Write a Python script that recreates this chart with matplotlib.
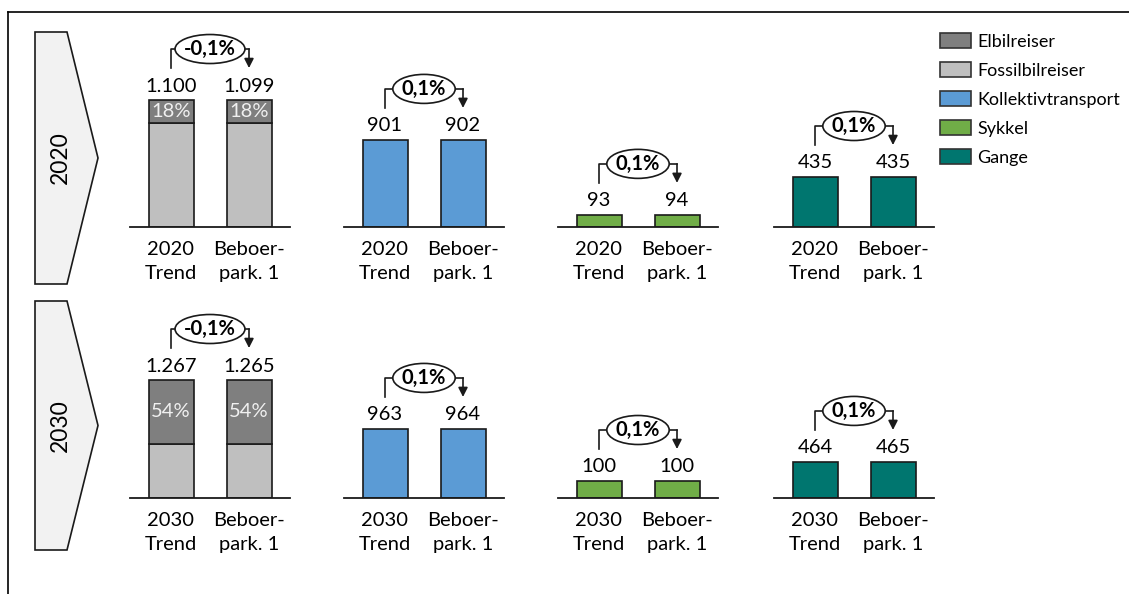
import matplotlib.pyplot as plt
from matplotlib.patches import Polygon, Ellipse, Patch

plt.rcParams['font.family'] = ['Lato', 'DejaVu Sans']

# travel volumes per mode, two scenarios each (Trend, Beboerparkering 1)
years = ['2020', '2030']
modes = ['Bil', 'Kollektivtransport', 'Sykkel', 'Gange']
trips_2020 = [[1100, 1099], [901, 902], [93, 94], [435, 435]]
trips_2030 = [[1267, 1265], [963, 964], [100, 100], [464, 465]]
el_share_2020 = [18, 18]   # % of car trips that are electric
el_share_2030 = [54, 54]
change_2020 = ['-0,1%', '0,1%', '0,1%', '0,1%']
change_2030 = ['-0,1%', '0,1%', '0,1%', '0,1%']
scenarios = ['{}\nTrend', 'Beboer-\npark. 1']
legend_labels = ['Elbilreiser', 'Fossilbilreiser', 'Kollektivtransport', 'Sykkel', 'Gange']

C_EL = '#7f7f7f'
C_FOSSIL = '#bfbfbf'
C_MODE = [None, '#5b9bd5', '#70ad47', '#00766f']
EDGE = '#1a1a1a'
FS = 14.5

W, H = 1129, 594
fig = plt.figure(figsize=(W / 100, H / 100), dpi=100)

# layout in pixels
centers = [210, 424, 638, 854]
baselines = [227, 498]
ax_w, ax_h = 160, 160
bar_gap = 78
bar_w = 45
ymax = [[1386, 1657, 1240, 1392], [1718, 2233, 941, 2062]]
chevron_y = [(32, 284), (301, 550)]

ov = fig.add_axes([0, 0, 1, 1], zorder=10)
ov.set_xlim(0, W)
ov.set_ylim(H, 0)
ov.axis('off')
ov.patch.set_alpha(0)

# frame lines
ov.plot([8, W], [12, 12], color='black', lw=1.2)
ov.plot([8, 8], [12, H], color='black', lw=1.2)


def to_px(ax, x, y):
    dx, dy = ax.transData.transform((x, y))
    return dx, H - dy


renderer = fig.canvas.get_renderer()

for r, (year, trips, share, change) in enumerate(zip(
        years, [trips_2020, trips_2030], [el_share_2020, el_share_2030],
        [change_2020, change_2030])):
    # year chevron
    top, bot = chevron_y[r]
    mid = (top + bot) / 2
    ov.add_patch(Polygon([(35, top), (67, top), (98, mid), (67, bot), (35, bot)],
                         closed=True, facecolor='#f2f2f2', edgecolor=EDGE, lw=1.2))
    ov.text(60, mid, year, rotation=90, ha='center', va='center', fontsize=16.5)

    for p in range(4):
        base = baselines[r]
        ax = fig.add_axes([(centers[p] - ax_w / 2) / W, (H - base) / H, ax_w / W, ax_h / H])
        span = ax_w / bar_gap
        ax.set_xlim(0.5 - span / 2, 0.5 + span / 2)
        ax.set_ylim(0, ymax[r][p])
        bw = bar_w / bar_gap
        vals = trips[p]
        xs = [0, 1]
        if p == 0:
            el = [v * s / 100 for v, s in zip(vals, share)]
            fossil = [v - e for v, e in zip(vals, el)]
            ax.bar(xs, fossil, width=bw, color=C_FOSSIL, edgecolor=EDGE, lw=1.2)
            ax.bar(xs, el, width=bw, bottom=fossil, color=C_EL, edgecolor=EDGE, lw=1.2)
            for x, f, e, s in zip(xs, fossil, el, share):
                ax.text(x, f + e / 2, f'{s}%', ha='center', va='center',
                        color='#f0f0f0', fontsize=FS)
        else:
            ax.bar(xs, vals, width=bw, color=C_MODE[p], edgecolor=EDGE, lw=1.2)

        for x, v in zip(xs, vals):
            ax.annotate(f'{v:,}'.replace(',', '.'), (x, v), xytext=(0, 14),
                        textcoords='offset pixels', ha='center', va='center', fontsize=FS)

        ax.set_xticks(xs, [scenarios[0].format(year), scenarios[1]])
        ax.tick_params(length=0, pad=10, labelsize=FS)
        for lab in ax.get_xticklabels():
            lab.set_linespacing(1.5)
        ax.set_yticks([])
        for side in ['top', 'left', 'right']:
            ax.spines[side].set_visible(False)
        ax.spines['bottom'].set_color(EDGE)
        ax.spines['bottom'].set_linewidth(1.3)
        ax.patch.set_alpha(0)

        # change bubble with elbow connector
        x1, ytop = to_px(ax, 0, max(vals))
        x2, _ = to_px(ax, 1, max(vals))
        y_start = ytop - 32
        y_mid = ytop - 51
        xc = (x1 + x2) / 2
        ov.plot([x1, x1, xc], [y_start, y_mid, y_mid], color=EDGE, lw=1.2)
        ov.plot([xc, x2], [y_mid, y_mid], color=EDGE, lw=1.2)
        ov.annotate('', xy=(x2, y_start), xytext=(x2, y_mid),
                    arrowprops=dict(arrowstyle='-|>,head_length=0.55,head_width=0.28',
                                    color=EDGE, lw=1.2, shrinkA=0, shrinkB=0))
        t = ov.text(xc, y_mid, change[p], ha='center', va='center',
                    fontsize=FS, fontweight='bold', zorder=5)
        tw = t.get_window_extent(renderer).width
        ov.add_patch(Ellipse((xc, y_mid), tw + 18, 29, facecolor='white',
                             edgecolor=EDGE, lw=1.2, zorder=4))

handles = [Patch(facecolor=c, edgecolor='#333333', lw=1.2)
           for c in [C_EL, C_FOSSIL] + C_MODE[1:]]
fig.legend(handles, legend_labels, loc='upper left',
           bbox_to_anchor=(940 / W, 1 - 33 / H), frameon=False, fontsize=13,
           borderaxespad=0, borderpad=0, handlelength=1.72, handleheight=0.9,
           handletextpad=0.35, labelspacing=0.68)

fig.savefig('out.png', dpi=100)
